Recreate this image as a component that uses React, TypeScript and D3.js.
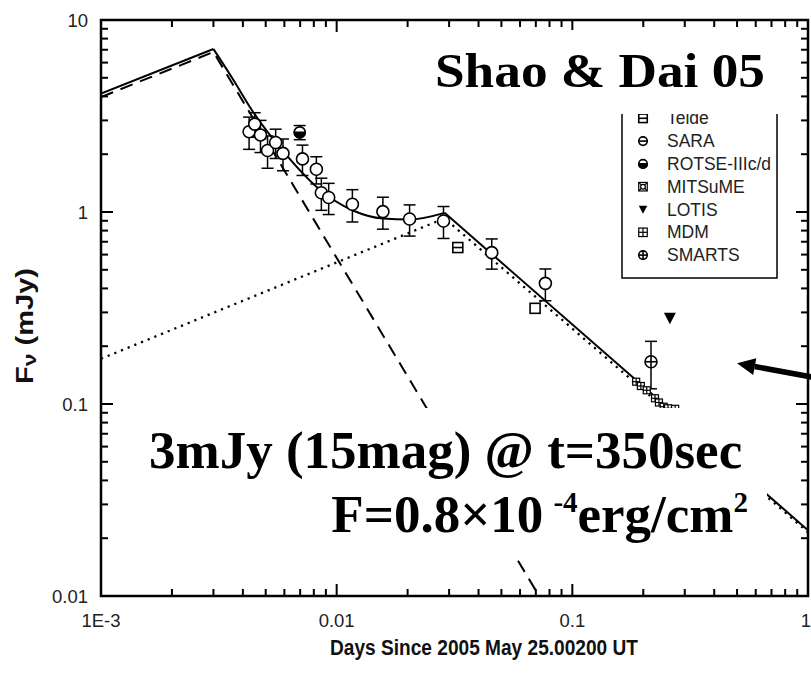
import React from "react";
import * as d3 from "d3";

// ---------- axis ticks ----------
const xMajor = [0.001, 0.01, 0.1, 1];
const xMajorLabels = ["1E-3", "0.01", "0.1", "1"];
const yMajor = [0.01, 0.1, 1, 10];
const yMajorLabels = ["0.01", "0.1", "1", "10"];

// ---------- data ----------
// open circles
const circT = [0.00425, 0.00449, 0.00475, 0.00509, 0.00551, 0.00592, 0.00716, 0.0082, 0.00861, 0.00925, 0.01166, 0.01571, 0.02039, 0.0284, 0.0455, 0.07685];
const circF = [2.62, 2.87, 2.52, 2.09, 2.3, 2.02, 1.89, 1.67, 1.26, 1.19, 1.097, 1.004, 0.919, 0.898, 0.614, 0.425];
const circE = [0.5, 0.42, 0.48, 0.4, 0.4, 0.38, 0.34, 0.27, 0.24, 0.22, 0.21, 0.19, 0.17, 0.17, 0.11, 0.08];
// ROTSE-IIIc/d
const rotseT = [0.00697];
const rotseF = [2.6];
const rotseE = [0.22];
// Telde
const teldeT = [0.03266];
const teldeF = [0.653];
// plain square
const sqT = [0.0695];
const sqF = [0.315];
// MDM
const mdmT = [0.1866, 0.1953, 0.2069, 0.2243, 0.2331, 0.2442, 0.2546, 0.2731];
const mdmF = [0.1307, 0.1241, 0.1179, 0.1071, 0.1018, 0.0968, 0.095, 0.0944];
// SMARTS
const smartsT = [0.2157];
const smartsF = [0.166];
const smartsE = [0.046];
// LOTIS
const lotisT = [0.2594];
const lotisF = [0.2796];

// ---------- model curves ----------
const dashedT = [0.001, 0.003, 0.0723];
const dashedF = [3.97, 6.81, 0.01];
const dottedT = [0.001, 0.0287, 1];
const dottedF = [0.172, 0.927, 0.0215];
const solidRiseT = [0.001, 0.003];
const solidRiseF = [4.14, 7.06];
const solidBlendT = [0.003, 0.003624, 0.00442, 0.006122, 0.008472, 0.01173, 0.01571, 0.02039, 0.0287];
const solidBlendF = [7.06, 4.93, 3.32, 1.98, 1.31, 1.018, 0.925, 0.914, 0.99];
const solidDecayT = [0.0287, 1];
const solidDecayF = [0.99, 0.022];

// ---------- legend ----------
const legendLabels = ["Telde", "SARA", "ROTSE-IIIc/d", "MITSuME", "LOTIS", "MDM", "SMARTS"];
const legendKinds = ["telde", "sara", "rotse", "mitsume", "lotis", "mdm", "smarts"];

const SANS = "Arial, 'Liberation Sans', Helvetica, sans-serif";
const SERIF = "'Times New Roman', 'Liberation Serif', serif";

function Symbol({ kind, cx, cy, s }: { kind: string; cx: number; cy: number; s: number }) {
  const h = s / 2;
  const sw = 1.6;
  switch (kind) {
    case "telde":
      return (
        <g stroke="#000" strokeWidth={sw} fill="#fff">
          <rect x={cx - h} y={cy - h} width={s} height={s} />
          <line x1={cx - h} x2={cx + h} y1={cy} y2={cy} />
        </g>
      );
    case "square":
      return <rect x={cx - h} y={cy - h} width={s} height={s} stroke="#000" strokeWidth={sw} fill="#fff" />;
    case "mdm":
      return (
        <g stroke="#000" strokeWidth={1.2} fill="#fff">
          <rect x={cx - h} y={cy - h} width={s} height={s} />
          <line x1={cx - h} x2={cx + h} y1={cy} y2={cy} />
          <line x1={cx} x2={cx} y1={cy - h} y2={cy + h} />
        </g>
      );
    case "sara":
      return (
        <g stroke="#000" strokeWidth={sw} fill="#fff">
          <circle cx={cx} cy={cy} r={h} />
          <line x1={cx - h} x2={cx + h} y1={cy} y2={cy} />
        </g>
      );
    case "rotse":
      return (
        <g stroke="#000" strokeWidth={sw}>
          <circle cx={cx} cy={cy} r={h} fill="#fff" />
          <path d={`M${cx - h},${cy} A${h},${h} 0 0 0 ${cx + h},${cy} Z`} fill="#000" />
        </g>
      );
    case "mitsume":
      return (
        <g stroke="#000" strokeWidth={1.2} fill="#fff">
          <rect x={cx - h} y={cy - h} width={s} height={s} />
          <line x1={cx - h} x2={cx + h} y1={cy - h} y2={cy + h} />
          <line x1={cx - h} x2={cx + h} y1={cy + h} y2={cy - h} />
          <circle cx={cx} cy={cy} r={h * 0.55} />
        </g>
      );
    case "lotis":
      return <path d={`M${cx - h},${cy - h * 0.9} L${cx + h},${cy - h * 0.9} L${cx},${cy + h} Z`} fill="#000" />;
    case "smarts":
      return (
        <g stroke="#000" strokeWidth={sw} fill="#fff">
          <circle cx={cx} cy={cy} r={h} />
          <line x1={cx - h} x2={cx + h} y1={cy} y2={cy} />
          <line x1={cx} x2={cx} y1={cy - h} y2={cy + h} />
        </g>
      );
    default:
      return (
        <circle cx={cx} cy={cy} r={h} stroke="#000" strokeWidth={sw} fill="#fff" />
      );
  }
}

export default function App() {
  const x = d3.scaleLog().domain([1e-3, 1]).range([101, 808]);
  const y = d3.scaleLog().domain([0.01, 10]).range([596, 20]);
  const [x0, x1] = x.range();
  const [y0, y1] = y.range();

  const xMinor = x.ticks().filter((v) => !xMajor.some((m) => Math.abs(m - v) / m < 1e-6));
  const yMinor = y.ticks().filter((v) => !yMajor.some((m) => Math.abs(m - v) / m < 1e-6));

  const lin = d3.line<[number, number]>().x((d) => x(d[0])).y((d) => y(d[1]));
  const smooth = d3.line<[number, number]>().x((d) => x(d[0])).y((d) => y(d[1])).curve(d3.curveMonotoneX);
  const zip = (a: number[], b: number[]) => a.map((v, i) => [v, b[i]] as [number, number]);

  const MAJ = 12, MIN = 7;

  const errBar = (t: number, f: number, e: number, key: string) => {
    const cx = x(t);
    const ya = y(f + e), yb = y(Math.max(f - e, 0.0101));
    return (
      <g key={key} stroke="#000" strokeWidth={1.5}>
        <line x1={cx} x2={cx} y1={ya} y2={yb} />
        <line x1={cx - 6} x2={cx + 6} y1={ya} y2={ya} />
        <line x1={cx - 6} x2={cx + 6} y1={yb} y2={yb} />
      </g>
    );
  };

  // arrow (data coords)
  const tip: [number, number] = [x(0.5), y(0.163)];
  const tail: [number, number] = [x(1.23), y(0.133)];
  const ang = Math.atan2(tail[1] - tip[1], tail[0] - tip[0]);
  const hl = 18, hw = 8.5;
  const bx = tip[0] + hl * Math.cos(ang), by = tip[1] + hl * Math.sin(ang);
  const px = -Math.sin(ang), py = Math.cos(ang);

  const legX = 643, legY0 = 118.3, legDy = 22.8;

  return (
    <svg width={811} height={676} style={{ position: "absolute", left: 0, top: 0, background: "#fff" }}>
      <rect x={0} y={0} width={811} height={676} fill="#fff" />
      <defs>
        <clipPath id="plotClip">
          <rect x={x0} y={y1} width={x1 - x0} height={y0 - y1} />
        </clipPath>
      </defs>

      {/* ticks */}
      <g stroke="#000" strokeWidth={2}>
        {xMajor.map((v) => (
          <g key={"xM" + v}>
            <line x1={x(v)} x2={x(v)} y1={y0} y2={y0 - MAJ} />
            <line x1={x(v)} x2={x(v)} y1={y1} y2={y1 + MAJ} />
          </g>
        ))}
        {xMinor.map((v) => (
          <g key={"xm" + v}>
            <line x1={x(v)} x2={x(v)} y1={y0} y2={y0 - MIN} />
            <line x1={x(v)} x2={x(v)} y1={y1} y2={y1 + MIN} />
          </g>
        ))}
        {yMajor.map((v) => (
          <g key={"yM" + v}>
            <line x1={x0} x2={x0 + MAJ} y1={y(v)} y2={y(v)} />
            <line x1={x1} x2={x1 - MAJ} y1={y(v)} y2={y(v)} />
          </g>
        ))}
        {yMinor.map((v) => (
          <g key={"ym" + v}>
            <line x1={x0} x2={x0 + MIN} y1={y(v)} y2={y(v)} />
            <line x1={x1} x2={x1 - MIN} y1={y(v)} y2={y(v)} />
          </g>
        ))}
      </g>

      {/* tick labels */}
      <g fontFamily={SANS} fontSize={18.5} fill="#222">
        {xMajor.map((v, i) => (
          <text key={"xl" + v} x={i === xMajor.length - 1 ? 811 : x(v)} y={627} textAnchor={i === xMajor.length - 1 ? "end" : "middle"}>{xMajorLabels[i]}</text>
        ))}
        {yMajor.map((v, i) => (
          <text key={"yl" + v} x={88} y={y(v) + 6.5} textAnchor="end">{yMajorLabels[i]}</text>
        ))}
      </g>

      {/* axis titles */}
      <text x={484} y={655} textAnchor="middle" fontFamily={SANS} fontWeight="bold" fontSize={22.5} textLength={308} lengthAdjust="spacingAndGlyphs" fill="#111">
        Days Since 2005 May 25.00200 UT
      </text>
      <text transform="translate(33,326) rotate(-90)" textAnchor="middle" fontFamily={SANS} fontWeight="bold" fontSize={24} textLength={116} lengthAdjust="spacingAndGlyphs" fill="#111">
        F<tspan fontSize={19} dy={3}>ν</tspan><tspan dy={-3}> (mJy)</tspan>
      </text>

      {/* model curves */}
      <g clipPath="url(#plotClip)" fill="none" stroke="#000">
        <path d={lin(zip(dashedT, dashedF)) || ""} strokeWidth={2} strokeDasharray="13,8" />
        <path d={lin(zip(dottedT, dottedF)) || ""} strokeWidth={2.3} strokeDasharray="2.2,5" />
        <path d={lin(zip(solidRiseT, solidRiseF)) || ""} strokeWidth={2} />
        <path d={smooth(zip(solidBlendT, solidBlendF)) || ""} strokeWidth={2} />
        <path d={lin(zip(solidDecayT, solidDecayF)) || ""} strokeWidth={2} />
      </g>

      {/* data */}
      <g>
        {circT.map((t, i) => errBar(t, circF[i], circE[i], "ce" + i))}
        {rotseT.map((t, i) => errBar(t, rotseF[i], rotseE[i], "re" + i))}
        {smartsT.map((t, i) => errBar(t, smartsF[i], smartsE[i], "se" + i))}
        {circT.map((t, i) => (
          <Symbol key={"c" + i} kind="circle" cx={x(t)} cy={y(circF[i])} s={12} />
        ))}
        {rotseT.map((t, i) => (
          <Symbol key={"r" + i} kind="rotse" cx={x(t)} cy={y(rotseF[i])} s={11} />
        ))}
        {teldeT.map((t, i) => (
          <Symbol key={"t" + i} kind="telde" cx={x(t)} cy={y(teldeF[i])} s={10} />
        ))}
        {sqT.map((t, i) => (
          <Symbol key={"q" + i} kind="square" cx={x(t)} cy={y(sqF[i])} s={10} />
        ))}
        {mdmT.map((t, i) => (
          <Symbol key={"m" + i} kind="mdm" cx={x(t)} cy={y(mdmF[i])} s={7} />
        ))}
        {smartsT.map((t, i) => (
          <Symbol key={"s" + i} kind="smarts" cx={x(t)} cy={y(smartsF[i])} s={12} />
        ))}
        {lotisT.map((t, i) => (
          <Symbol key={"l" + i} kind="lotis" cx={x(t)} cy={y(lotisF[i])} s={12} />
        ))}
      </g>

      {/* legend */}
      <rect x={622} y={100} width={155} height={178} fill="#fff" stroke="#000" strokeWidth={1.5} />
      {legendLabels.map((lab, i) => (
        <g key={"lg" + i}>
          <Symbol kind={legendKinds[i]} cx={legX} cy={legY0 + i * legDy} s={8.5} />
          <text x={667} y={legY0 + i * legDy + 6} fontFamily={SANS} fontSize={17.5} fill="#222">{lab}</text>
        </g>
      ))}

      {/* frame */}
      <rect x={x0} y={y1} width={x1 - x0} height={y0 - y1} fill="none" stroke="#000" strokeWidth={2.5} />

      {/* annotation white boxes */}
      <rect x={425} y={30} width={370} height={84} fill="#fff" />
      <rect x={140} y={408} width={627} height={72} fill="#fff" />
      <rect x={320} y={480} width={447} height={76} fill="#fff" />

      {/* annotations */}
      <text x={435} y={87} fontFamily={SERIF} fontWeight="bold" fontSize={49} textLength={330} lengthAdjust="spacingAndGlyphs" fill="#000">
        Shao &amp; Dai 05
      </text>
      <text x={149} y={468} fontFamily={SERIF} fontWeight="bold" fontSize={53} fill="#000">
        3mJy (15mag) @ t=350sec
      </text>
      <text x={748} y={532} textAnchor="end" fontFamily={SERIF} fontWeight="bold" fontSize={53} fill="#000">
        F=0.8×10<tspan dx={10} dy={-20} fontSize={29}>-4</tspan><tspan dy={20}>erg/cm</tspan><tspan dy={-20} fontSize={29}>2</tspan>
      </text>

      {/* arrow */}
      <line x1={tail[0]} y1={tail[1]} x2={bx} y2={by} stroke="#000" strokeWidth={5.5} />
      <path d={`M${tip[0]},${tip[1]} L${bx + px * hw},${by + py * hw} L${bx - px * hw},${by - py * hw} Z`} fill="#000" />
    </svg>
  );
}
